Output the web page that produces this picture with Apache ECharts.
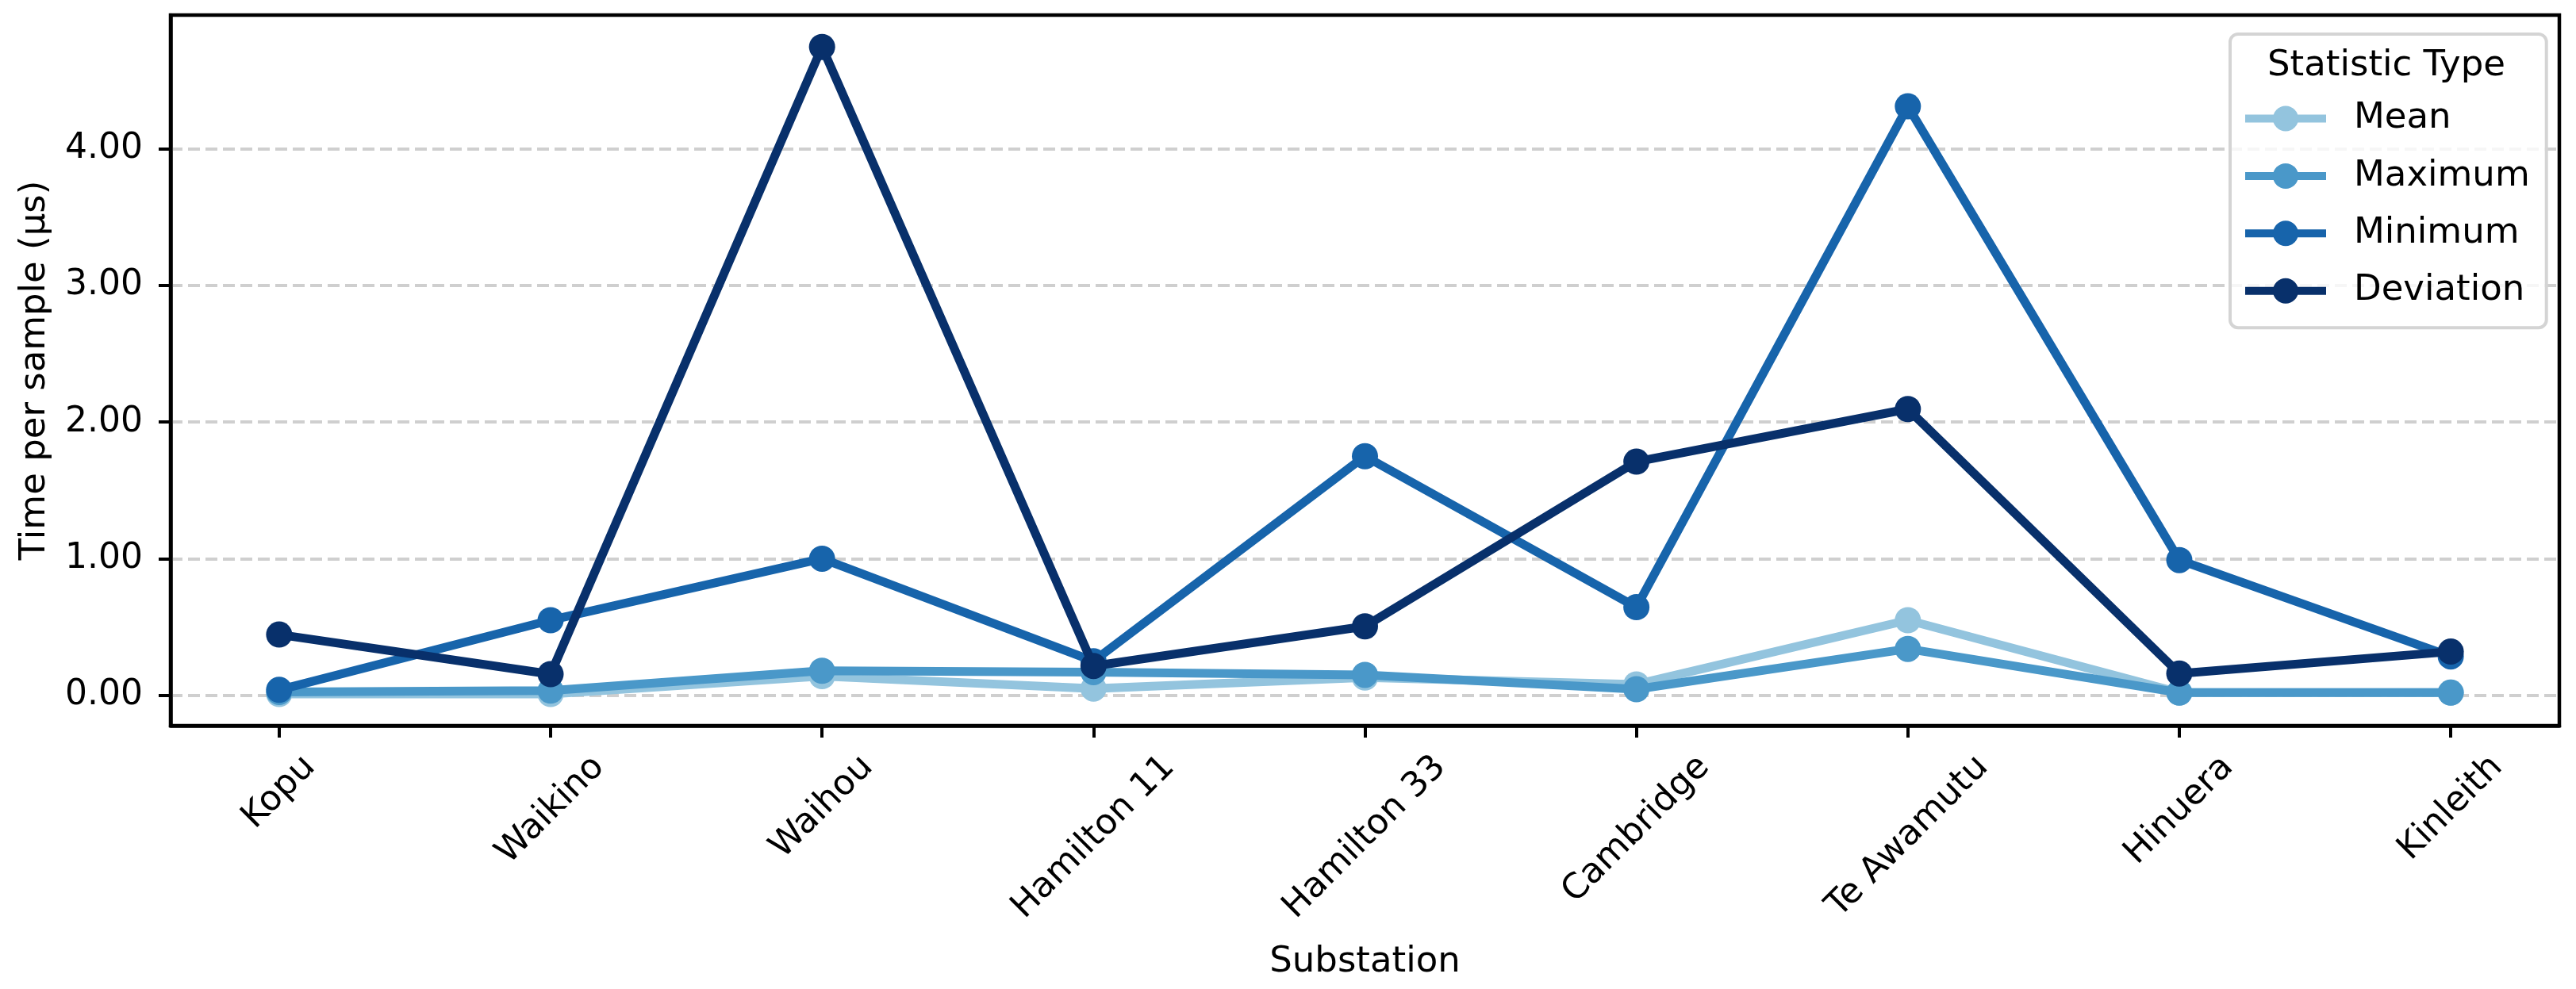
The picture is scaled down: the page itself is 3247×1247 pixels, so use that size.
<!DOCTYPE html>
<html>
<head>
<meta charset="utf-8">
<script src="https://cdn.jsdelivr.net/npm/echarts@6/dist/echarts.min.js"></script>
<style>html,body{margin:0;padding:0;background:#fff}#c{width:3247px;height:1247px}</style>
</head>
<body>
<div id="c"></div>
<script>
// ---- data ----
const categories = ['Kopu', 'Waikino', 'Waihou', 'Hamilton 11', 'Hamilton 33', 'Cambridge', 'Te Awamutu', 'Hinuera', 'Kinleith'];
const meanValues = [0.01, 0.01, 0.14, 0.05, 0.13, 0.08, 0.55, 0.02, 0.02];
const maximumValues = [0.025, 0.035, 0.18, 0.17, 0.15, 0.045, 0.34, 0.02, 0.02];
const minimumValues = [0.04, 0.55, 1.00, 0.25, 1.75, 0.645, 4.31, 0.99, 0.285];
const deviationValues = [0.445, 0.155, 4.745, 0.215, 0.505, 1.71, 2.095, 0.16, 0.32];
const seriesNames = ['Mean', 'Maximum', 'Minimum', 'Deviation'];
const yTickValues = [0, 1, 2, 3, 4];
const xTickValues = categories.map((c, i) => i);

// ---- style ----
const FONT = 'DejaVu Sans';
const colors = ['#93c4de', '#4a98c9', '#1764ab', '#08306b'];
const allSeries = [meanValues, maximumValues, minimumValues, deviationValues];

const chart = echarts.init(document.getElementById('c'), null, { renderer: 'canvas' });

const option = {
  animation: false,
  backgroundColor: '#ffffff',
  textStyle: { fontFamily: FONT, color: '#000' },
  grid: {
    left: 215, right: 21, top: 19, bottom: 332,
    show: true, borderColor: '#000', borderWidth: 4.5, backgroundColor: 'transparent'
  },
  xAxis: {
    type: 'value',
    min: -0.4, max: 8.4,
    name: 'Substation',
    nameLocation: 'middle',
    nameGap: 276,
    nameTextStyle: { fontSize: 45, color: '#000', fontFamily: FONT },
    axisLine: { show: true, onZero: false, lineStyle: { color: '#000', width: 4.5 } },
    axisTick: { show: true, customValues: xTickValues, length: 15, lineStyle: { color: '#000', width: 4 } },
    axisLabel: { show: false },
    splitLine: { show: false }
  },
  yAxis: {
    type: 'value',
    min: -0.222, max: 4.978,
    name: 'Time per sample (µs)',
    nameLocation: 'middle',
    nameGap: 148,
    nameRotate: 90,
    nameTextStyle: { fontSize: 45, color: '#000', fontFamily: FONT },
    axisLine: { show: true, onZero: false, lineStyle: { color: '#000', width: 4.5 } },
    axisTick: { show: true, customValues: yTickValues, length: 15, lineStyle: { color: '#000', width: 4 } },
    axisLabel: {
      show: true, customValues: yTickValues, margin: 35,
      fontSize: 44, color: '#000', fontFamily: FONT,
      formatter: v => Number(v).toFixed(2)
    },
    splitLine: { show: true, lineStyle: { color: '#cfcfcf', width: 4, type: [15, 7] } }
  },
  legend: {
    orient: 'vertical',
    left: 2811, top: 43,
    padding: [84, 21, 24, 14],
    itemWidth: 102, itemHeight: 40, itemGap: 27.4,
    borderColor: '#d4d4d4', borderWidth: 4, borderRadius: 10,
    backgroundColor: 'rgba(255,255,255,0.8)',
    lineStyle: { width: 10 },
    textStyle: { fontSize: 45, color: '#000', fontFamily: FONT, padding: [0, 0, 0, 30], lineHeight: 40 },
    data: seriesNames
  },
  series: seriesNames.map((name, k) => ({
    name: name,
    type: 'line',
    data: allSeries[k].map((v, i) => [i, v]),
    symbol: 'circle',
    symbolSize: 33,
    showSymbol: true,
    color: colors[k],
    itemStyle: { color: colors[k] },
    lineStyle: { color: colors[k], width: 11 },
    emphasis: { disabled: true },
    z: 2 + k
  }))
};
chart.setOption(option);

// ---- rotated category labels (matplotlib-style: rotated box centered on tick) ----
const measureCtx = document.createElement('canvas').getContext('2d');
const LABEL_SIZE = 44;
measureCtx.font = LABEL_SIZE + 'px "' + FONT + '"';
const s = Math.SQRT1_2;
const topY = 945;
const labelEls = categories.map((c, i) => {
  const px = chart.convertToPixel({ xAxisIndex: 0 }, i);
  const L = measureCtx.measureText(c).width;
  return {
    type: 'text',
    x: px + L * s / 2,
    y: topY + LABEL_SIZE * s / 2,
    rotation: Math.PI / 4,
    style: { text: c, fontSize: LABEL_SIZE, fontFamily: FONT, fill: '#000', align: 'right', verticalAlign: 'middle' },
    z: 10
  };
});
labelEls.push({
  type: 'text',
  x: 3008, y: 83,
  style: { text: 'Statistic Type', fontSize: 45, fontFamily: FONT, fill: '#000', align: 'center', verticalAlign: 'middle' },
  z: 100
});
chart.setOption({ graphic: { elements: labelEls } });
</script>
</body>
</html>
